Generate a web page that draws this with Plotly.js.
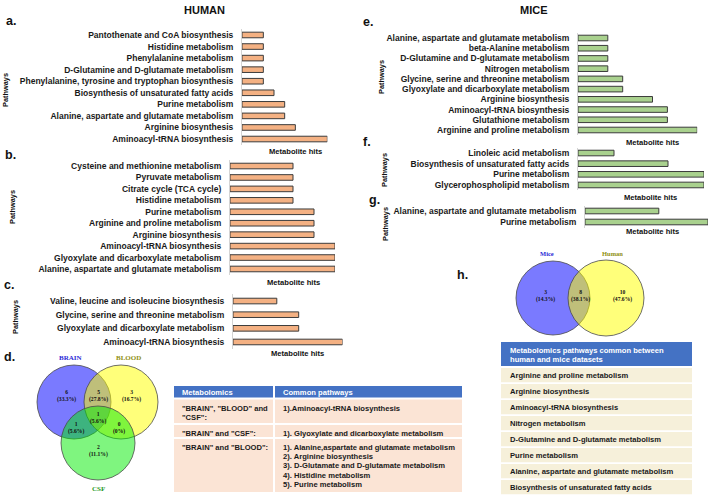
<!DOCTYPE html>
<html><head><meta charset="utf-8">
<script src="https://cdn.plot.ly/plotly-3.0.1.min.js"></script>
<style>html,body{margin:0;padding:0;background:#fff}#chart{width:709px;height:497px}</style>
</head><body><div id="chart"></div>
<script>
// ---------- DATA ----------
const humanA_paths = ['Pantothenate and CoA biosynthesis','Histidine metabolism','Phenylalanine metabolism','D-Glutamine and D-glutamate metabolism','Phenylalanine, tyrosine and tryptophan biosynthesis','Biosynthesis of unsaturated fatty acids','Purine metabolism','Alanine, aspartate and glutamate metabolism','Arginine biosynthesis','Aminoacyl-tRNA biosynthesis'];
const humanA_hits = [2,2,2,2,2,3,4,4,5,8];
const humanB_paths = ['Cysteine and methionine metabolism','Pyruvate metabolism','Citrate cycle (TCA cycle)','Histidine metabolism','Purine metabolism','Arginine and proline metabolism','Arginine biosynthesis','Aminoacyl-tRNA biosynthesis','Glyoxylate and dicarboxylate metabolism','Alanine, aspartate and glutamate metabolism'];
const humanB_hits = [3,3,3,3,4,4,4,5,5,5];
const humanC_paths = ['Valine, leucine and isoleucine biosynthesis','Glycine, serine and threonine metabolism','Glyoxylate and dicarboxylate metabolism','Aminoacyl-tRNA biosynthesis'];
const humanC_hits = [2,3,3,5];
const miceE_paths = ['Alanine, aspartate and glutamate metabolism','beta-Alanine metabolism','D-Glutamine and D-glutamate metabolism','Nitrogen metabolism','Glycine, serine and threonine metabolism','Glyoxylate and dicarboxylate metabolism','Arginine biosynthesis','Aminoacyl-tRNA biosynthesis','Glutathione metabolism','Arginine and proline metabolism'];
const miceE_hits = [2,2,2,2,3,3,5,6,6,8];
const miceF_paths = ['Linoleic acid metabolism','Biosynthesis of unsaturated fatty acids','Purine metabolism','Glycerophospholipid metabolism'];
const miceF_hits = [2,5,7,7];
const miceG_paths = ['Alanine, aspartate and glutamate metabolism','Purine metabolism'];
const miceG_hits = [3,5];

const vennD_sets = ['BRAIN','BLOOD','CSF'];
const vennD_counts = ['6','5','3','1','1','0','2'];
const vennD_pcts = ['(33.3%)','(27.8%)','(16.7%)','(5.6%)','(5.6%)','(0%)','(11.1%)'];
const vennH_sets = ['Mice','Human'];
const vennH_counts = ['3','8','10'];
const vennH_pcts = ['(14.3%)','(38.1%)','(47.6%)'];

const tableD_header = ['Metabolomics','Common pathways'];
const tableD_groups = [['"BRAIN", "BLOOD" and','"CSF":'],['"BRAIN" and "CSF":'],['"BRAIN" and "BLOOD":']];
const tableD_common = [
  ['1).Aminoacyl-tRNA biosynthesis'],
  ['1). Glyoxylate and dicarboxylate metabolism'],
  ['1). Alanine,aspartate and glutamate metabolism','2). Arginine biosynthesis','3). D-Glutamate and D-glutamate metabolism','4). Histidine metabolism','5). Purine metabolism']
];
const tableH_header = ['Metabolomics pathways common between','human and mice datasets'];
const tableH_rows = ['Arginine and proline metabolism','Arginine biosynthesis','Aminoacyl-tRNA biosynthesis','Nitrogen metabolism','D-Glutamine and D-glutamate metabolism','Purine metabolism','Alanine, aspartate and glutamate metabolism','Biosynthesis of unsaturated fatty acids'];

// ---------- LAYOUT HELPERS ----------
const W = 709, H = 497;
const fx = p => p / W;
const fy = p => 1 - p / H;
const SANS = 'Liberation Sans, Arial, sans-serif';
const SERIF = 'Liberation Serif, Times New Roman, serif';
const ORANGE = '#F4B183', GREEN = '#A9D18E', EDGE = '#3b3b3b';

const data = [];
const layout = {
  width: W, height: H, margin: {l:0, r:0, t:0, b:0},
  paper_bgcolor: '#fff', plot_bgcolor: 'rgba(0,0,0,0)',
  showlegend: false, bargap: 0, annotations: [], shapes: []
};

let axN = 0;
function panel(paths, hits, color, x0, unit, yTop, yBot) {
  axN++;
  const xa = 'xaxis' + (axN === 1 ? '' : axN), ya = 'yaxis' + (axN === 1 ? '' : axN);
  const xr = 'x' + (axN === 1 ? '' : axN), yr = 'y' + (axN === 1 ? '' : axN);
  const n = paths.length;
  const maxV = Math.max(...hits);
  const spacing = (yBot - yTop) / n;
  data.push({
    type: 'bar', orientation: 'h', x: hits, y: paths, xaxis: xr, yaxis: yr,
    width: 5.6 / spacing,
    marker: {color: color, line: {color: EDGE, width: 1}},
    hoverinfo: 'skip'
  });
  layout[xa] = {domain: [fx(x0), fx(x0 + unit * maxV)], range: [0, maxV], anchor: yr,
    showticklabels: false, showgrid: false, zeroline: false, showline: false, fixedrange: true};
  layout[ya] = {domain: [fy(yBot), fy(yTop)], anchor: xr, type: 'category',
    categoryorder: 'array', categoryarray: paths, range: [n - 0.5, -0.5],
    showline: true, linecolor: '#d4d4d4', linewidth: 1, ticks: '', showgrid: false,
    ticklabelstandoff: 6,
    tickfont: {family: SANS, size: 8.5, color: '#1a1a1a', weight: 'bold'}, fixedrange: true};
}

panel(humanA_paths, humanA_hits, ORANGE, 242, 10.67, 29.2, 144.8);
panel(humanB_paths, humanB_hits, ORANGE, 230, 21, 160.3, 274.7);
panel(humanC_paths, humanC_hits, ORANGE, 233, 21.9, 294.2, 348.8);
panel(miceE_paths, miceE_hits, GREEN, 578, 14.9, 32.9, 135.1);
panel(miceF_paths, miceF_hits, GREEN, 578, 18, 147.7, 190.3);
panel(miceG_paths, miceG_hits, GREEN, 585, 24.6, 205.5, 227.5);

function ann(x, y, text, size, opts) {
  layout.annotations.push(Object.assign({
    xref: 'paper', yref: 'paper', x: fx(x), y: fy(y), text: text, showarrow: false,
    xanchor: 'center', yanchor: 'middle',
    font: {family: SANS, size: size, color: '#111', weight: 'bold'}
  }, opts || {}));
}

// titles and panel letters
ann(204, 10, 'HUMAN', 11);
ann(534, 10, 'MICE', 11);
[['a.', 11, 21], ['b.', 10, 155], ['c.', 9, 285], ['d.', 9, 357],
 ['e.', 368, 22], ['f.', 367, 142], ['g.', 375, 200], ['h.', 462, 275]].forEach(l => ann(l[1], l[2], l[0], 12.5));
// axis labels
[[295, 151], [293, 282], [297, 353], [652, 142], [650, 197], [652, 232]].forEach(p => ann(p[0], p[1], 'Metabolite hits', 7.6));
[[6, 90], [13, 207], [15, 317], [381, 77], [384, 170], [385, 224]].forEach(p => ann(p[0], p[1], 'Pathways', 7.4, {textangle: -90}));

// ---------- VENN DIAGRAMS ----------
function circle(cx, cy, r, fill) {
  layout.shapes.push({type: 'circle', xref: 'paper', yref: 'paper',
    x0: fx(cx - r), x1: fx(cx + r), y0: fy(cy + r), y1: fy(cy - r),
    fillcolor: fill, line: {color: '#4a4a4a', width: 0.8}, layer: 'above'});
}
circle(74, 402, 37, 'rgba(0,0,255,0.52)');
circle(121, 402, 37, 'rgba(255,255,0,0.52)');
circle(98, 443, 37, 'rgba(0,235,0,0.5)');
const vennD_pos = [[66, 396], [98, 396], [131, 396], [98, 418], [76, 428], [119, 428], [98, 451]];
vennD_counts.forEach((c, i) => ann(vennD_pos[i][0], vennD_pos[i][1], c + '<br>' + vennD_pcts[i], 5.6,
  {font: {family: SERIF, size: 5.6, color: '#111', weight: 'bold'}}));
const vennD_labelPos = [[70, 358, '#2b2bd6'], [128, 358, '#8f8f12'], [98, 489, '#1f9a1f']];
vennD_sets.forEach((s, i) => ann(vennD_labelPos[i][0], vennD_labelPos[i][1], s, 7,
  {font: {family: SERIF, size: 7, color: vennD_labelPos[i][2], weight: 'bold'}}));

circle(553, 298, 37, 'rgba(0,0,255,0.52)');
circle(606, 298, 38, 'rgba(255,255,0,0.52)');
const vennH_pos = [[545, 296], [580, 296], [622, 296]];
vennH_counts.forEach((c, i) => ann(vennH_pos[i][0], vennH_pos[i][1], c + '<br>' + vennH_pcts[i], 5.6,
  {font: {family: SERIF, size: 5.6, color: '#111', weight: 'bold'}}));
const vennH_labelPos = [[547, 253, '#2b2bd6'], [612, 253, '#8f8f12']];
vennH_sets.forEach((s, i) => ann(vennH_labelPos[i][0], vennH_labelPos[i][1], s, 6.5,
  {font: {family: SERIF, size: 6.5, color: vennH_labelPos[i][2], weight: 'bold'}}));

// ---------- TABLES (cells as rectangles + text) ----------
function rect(x0, y0, x1, y1, fill) {
  layout.shapes.push({type: 'rect', xref: 'paper', yref: 'paper', layer: 'below',
    x0: fx(x0), x1: fx(x1), y0: fy(y1), y1: fy(y0), fillcolor: fill, line: {width: 0}});
}
function lines(x, yFirst, arr, step, color) {
  arr.forEach((t, i) => ann(x, yFirst + i * step, t, 7.6,
    {xanchor: 'left', font: {family: SANS, size: 7.6, color: color, weight: 'bold'}}));
}
const HEAD = '#4472C4', PEACH = '#FBE4D5', CREAM = '#F6F0DA';
// table d
const tdCols = [[174, 273], [275, 462]];
const tdRows = [[399.5, 423], [425, 437], [439, 492]];
rect(tdCols[0][0], 386, tdCols[0][1], 397.5, HEAD);
rect(tdCols[1][0], 386, tdCols[1][1], 397.5, HEAD);
tableD_header.forEach((h, c) => lines(tdCols[c][0] + 6, 392, [h], 9.2, '#fff'));
tdRows.forEach((r, i) => {
  rect(tdCols[0][0], r[0], tdCols[0][1], r[1], PEACH);
  rect(tdCols[1][0], r[0], tdCols[1][1], r[1], PEACH);
  lines(tdCols[0][0] + 6, r[0] + 8.5, tableD_groups[i], 9.6, '#1a1a1a');
  lines(tdCols[1][0] + 6, r[0] + 8.5, tableD_common[i], 9.2, '#1a1a1a');
});
// table h
rect(501, 342, 692, 366, HEAD);
lines(508, 350.5, tableH_header, 9.2, '#fff');
tableH_rows.forEach((t, i) => {
  const top = 368 + i * 16;
  rect(501, top, 692, top + 14.2, CREAM);
  lines(508, top + 7.6, [t], 9.2, '#1a1a1a');
});

Plotly.newPlot('chart', data, layout, {staticPlot: true, displayModeBar: false});
</script></body></html>
